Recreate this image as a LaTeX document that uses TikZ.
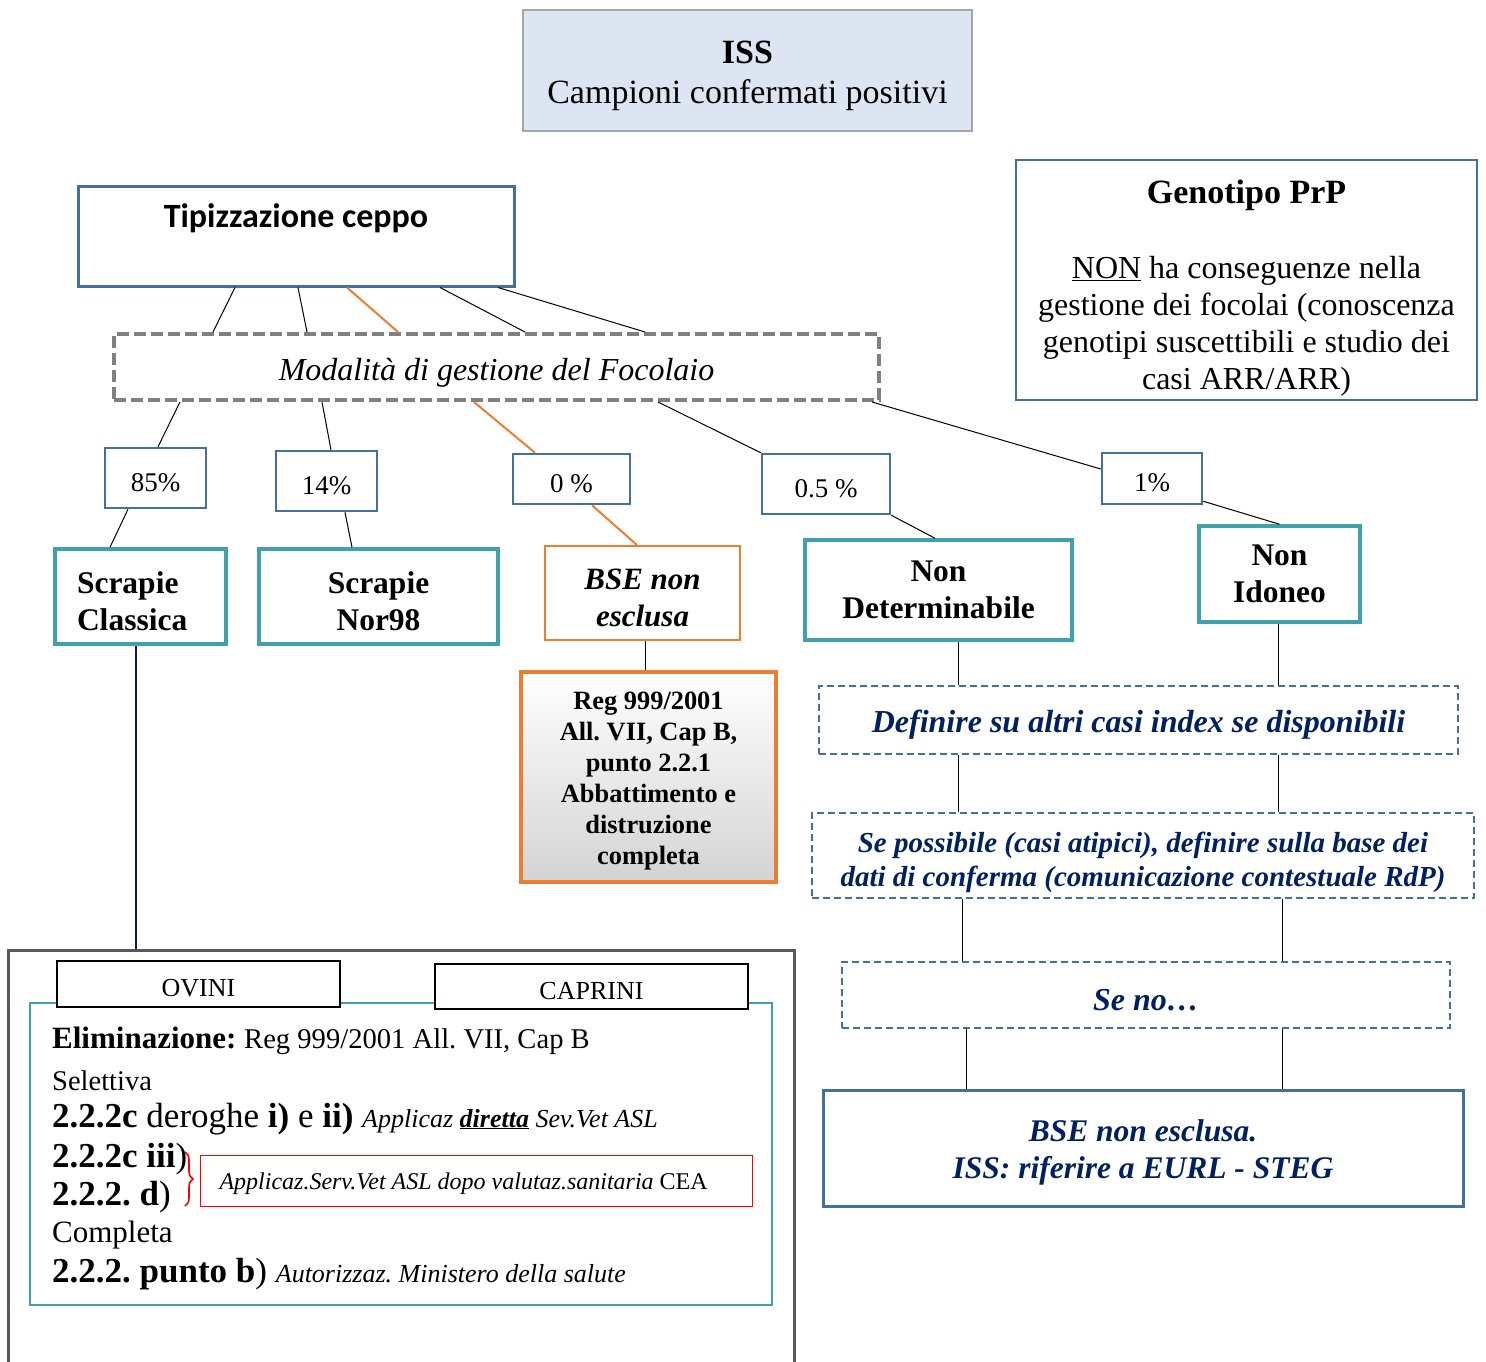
\documentclass[tikz,border=0pt]{standalone}
\usepackage{fontspec}
\setmainfont{Liberation Serif}
\newfontfamily\calfont{Carlito}
\usetikzlibrary{calc,decorations.pathreplacing}
\frenchspacing

\definecolor{frameblue}{RGB}{65,113,156}
\definecolor{catteal}{RGB}{64,160,174}
\definecolor{bseorange}{RGB}{237,125,49}
\definecolor{navytext}{RGB}{0,32,96}
\definecolor{issfill}{RGB}{220,230,242}
\definecolor{issgray}{RGB}{166,166,166}
\definecolor{modgray}{RGB}{128,128,128}
\definecolor{outergray}{RGB}{89,89,89}

\newcommand{\fsz}[2]{\fontsize{#1}{#2}\selectfont}

\begin{document}
\begin{tikzpicture}[x=1pt,y=-1pt,
  sink/.style={execute at begin node={\rule{0pt}{#1}}},
  sink/.default=1em,
  conn/.style={line width=1},
  hot/.style={bseorange, line width=2},
  pct/.style={draw=frameblue, line width=2.5, inner sep=0, sink, font=\fsz{27}{32}},
  cat/.style={draw=catteal, line width=3.5, inner sep=0, sink, align=flush center, font=\fsz{31.5}{37}\bfseries},
  navybox/.style={draw=frameblue, line width=2, dash pattern=on 7pt off 4pt, text=navytext,
    align=flush center, inner sep=0, sink, font=\bfseries\itshape}]

\useasboundingbox (0,0) rectangle (1486,1362);

% top
\node[draw=issgray, fill=issfill, line width=1.5, minimum width=449, minimum height=121, sink,
  text width=449, inner sep=0, align=flush center, font=\fsz{34}{40}] (iss) at (747.5,70.5)
  {\textbf{ISS}\\Campioni confermati positivi};

\node[draw=frameblue, line width=3, minimum width=436, inner sep=0, text height=41, text depth=59,
  font=\calfont\bfseries\fsz{34}{40}] (tip) at (296,236) {Tipizzazione ceppo};

\node[draw=frameblue, line width=2.5, minimum width=461, minimum height=240, inner sep=0, sink=40pt,
  text width=461, align=flush center, font=\fsz{32}{37}] (gen) at (1246.5,280)
  {{\fsz{34}{37}\textbf{Genotipo PrP}}\\[38pt]
   \underline{NON} ha conseguenze nella\\
   gestione dei focolai (conoscenza\\
   genotipi suscettibili e studio dei\\
   casi ARR/ARR)};

\node[draw=modgray, line width=4, dash pattern=on 12pt off 5pt, minimum width=765, minimum height=66,
  inner sep=0, sink=1.05em, font=\fsz{32}{38}\itshape] (mod) at (496.5,367) {Modalità di gestione del Focolaio};

% percentuali
\node[pct, minimum width=101, minimum height=60] (p85) at (155.5,478) {85\%};
\node[pct, minimum width=101, minimum height=60] (p14) at (326.5,481) {14\%};
\node[pct, minimum width=117, minimum height=50] (p0) at (571.5,479) {0 \%};
\node[pct, minimum width=128, minimum height=60] (p05) at (826,484) {0.5 \%};
\node[pct, minimum width=100, minimum height=51] (p1) at (1152,478.5) {1\%};

% tipi
\node[cat, minimum width=171, minimum height=95, text width=127, inner xsep=22, align=flush left] (sc) at (140.5,596.5)
  {Scrapie\\Classica};
\node[cat, minimum width=239, minimum height=95, text width=239] (sn) at (378.5,596.5) {Scrapie\\Nor98};
\node[cat, draw=bseorange, line width=2, minimum width=195, minimum height=94, text width=195,
  font=\fsz{31}{37}\bfseries\itshape] (bse) at (642.5,593) {BSE non\\esclusa};
\node[cat, minimum width=267, minimum height=100, sink=0.85em] (nd) at (938.5,590) {Non\\Determinabile};
\node[cat, minimum width=161, minimum height=96, sink=0.85em] (ni) at (1279.5,574) {Non\\Idoneo};

\node[draw=bseorange, line width=3.5, top color=white, bottom color=black!17, minimum width=255,
  minimum height=210, inner sep=0, sink, text width=255, align=flush center,
  font=\fsz{26.4}{31}\bfseries] (reg) at (648.5,777)
  {Reg 999/2001\\All. VII, Cap B,\\punto 2.2.1\\Abbattimento e\\distruzione\\completa};

% percorso BSE
\node[navybox, minimum width=639, minimum height=68, font=\fsz{32}{38}\bfseries\itshape] (def) at (1138.5,720)
  {Definire su altri casi index se disponibili};
\node[navybox, minimum width=662, minimum height=85, text width=662, sink=34pt,
  font=\fsz{29}{34}\bfseries\itshape] (sepos) at (1143,855.5)
  {Se possibile (casi atipici), definire sulla base dei\\dati di conferma (comunicazione contestuale RdP)};
\node[navybox, minimum width=608, minimum height=66, font=\fsz{32}{38}\bfseries\itshape] (seno) at (1146,995) {Se no\dots};
\node[navybox, solid, line width=3, minimum width=640, minimum height=116, text width=640,
  font=\fsz{31.5}{37}\bfseries\itshape] (bsefin) at (1143,1148)
  {BSE non esclusa.\\ISS: riferire a EURL - STEG};

% eliminazione
\node[draw=outergray, line width=3, minimum width=786, minimum height=420, inner sep=0] (ovcap) at (401,1160) {};
\node[draw=catteal, line width=2, minimum width=742, minimum height=302, inner sep=0] (misure) at (401,1154) {};
\node[draw, fill=white, line width=1.5, minimum width=283, minimum height=46, inner sep=0, sink,
  font=\fsz{26}{30}] (ovini) at (198.5,984) {OVINI};
\node[draw, fill=white, line width=1.5, minimum width=313, minimum height=45, inner sep=0, sink,
  font=\fsz{26}{30}] (caprini) at (591.5,986.5) {CAPRINI};

\node[anchor=base west, inner sep=0] (elim) at (52,1048)
  {\fsz{31}{36}\textbf{Eliminazione:} {\fsz{28.6}{34}Reg 999/2001 All. VII, Cap B}};
\node[anchor=base west, inner sep=0, font=\fsz{28.5}{34}] (sel) at (52,1090) {Selettiva};
\node[anchor=base west, inner sep=0, font=\fsz{35}{40}] (dero) at (52,1127)
  {\textbf{2.2.2c} deroghe \textbf{i)} e \textbf{ii)} {\fsz{26}{30}\itshape Applicaz \textbf{\underline{diretta}} Sev.Vet ASL}};
\node[anchor=base west, inner sep=0, font=\fsz{35}{40}] (iii) at (52,1167) {\textbf{2.2.2c iii})};
\node[anchor=base west, inner sep=0, font=\fsz{35}{40}] (dpt) at (52,1205) {\textbf{2.2.2. d})};
\node[anchor=base west, inner sep=0, font=\fsz{31}{36}] (comp) at (52,1242) {Completa};
\node[anchor=base west, inner sep=0, font=\fsz{35}{40}] (puntob) at (52,1282)
  {\textbf{2.2.2. punto b}) {\fsz{26}{30}\itshape Autorizzaz. Ministero della salute}};

\node[draw=red, line width=1, minimum height=51, text width=514, inner xsep=19, inner ysep=0, sink,
  align=flush left, font=\fsz{24}{28}] (cea) at (476.5,1180.5)
  {\textit{Applicaz.Serv.Vet ASL dopo valutaz.sanitaria} CEA};
\draw[red, line width=1.6, decorate, decoration={brace, amplitude=8}] (185,1152) -- (185,1206);

% collegamenti
\foreach \a/\b in {-61/-283.5, 2/-189.5, 144/28.5, 202/148.5}
  \draw[conn] ([xshift=\a]tip.south) -- ([xshift=\b]mod.north);
\draw[hot] ([xshift=51]tip.south) -- ([xshift=-98.5]mod.north);

\draw[conn] ([xshift=-316.5]mod.south) -- ([xshift=2.5]p85.north);
\draw[conn] ([xshift=-174.5]mod.south) -- ([xshift=4.5]p14.north);
\draw[hot] ([xshift=-22.5]mod.south) -- ([xshift=-36.5]p0.north);
\draw[conn] ([xshift=161.5]mod.south) -- (p05.north west);
\draw[conn] ([xshift=-9]mod.south east) -- ([yshift=9.5]p1.west);

\draw[conn] ([xshift=-27.5]p85.south) -- ([xshift=-30.5]sc.north);
\draw[conn] ([xshift=18.5]p14.south) -- ([xshift=-26.5]sn.north);
\draw[hot] ([xshift=20.5]p0.south) -- ([xshift=-5.5]bse.north);
\draw[conn] (p05.south east) -- ([xshift=-3.5]nd.north);
\draw[conn] ([yshift=4]p1.south east) -- (ni.north);

\draw[conn] ([xshift=2.5]bse.south) -- ([xshift=-3.5]reg.north);

\draw[conn] ([xshift=19.5]nd.south) -- ([xshift=-180.5]def.north);
\draw[conn] ([xshift=-1.5]ni.south) -- ([xshift=139.5]def.north);
\draw[conn] ([xshift=-180.5]def.south) -- ([xshift=-185]sepos.north);
\draw[conn] ([xshift=139.5]def.south) -- ([xshift=135]sepos.north);
\draw[conn] ([xshift=-181]sepos.south) -- ([xshift=-184]seno.north);
\draw[conn] ([xshift=139]sepos.south) -- ([xshift=136]seno.north);
\draw[conn] ([xshift=-180]seno.south) -- ([xshift=-177]bsefin.north);
\draw[conn] ([xshift=136]seno.south) -- ([xshift=139]bsefin.north);

\coordinate (sctail) at ([xshift=-4.5]sc.south);
\draw[navytext, line width=2] (sctail) -- (sctail |- ovcap.north);

\end{tikzpicture}
\end{document}
